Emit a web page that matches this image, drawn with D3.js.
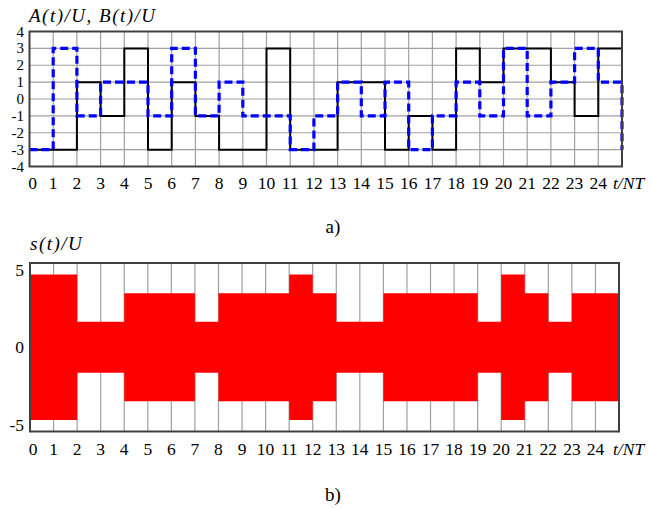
<!DOCTYPE html>
<html>
<head>
<meta charset="utf-8">
<script src="https://cdn.jsdelivr.net/npm/d3@7"></script>
<style>
  html, body { margin: 0; padding: 0; background: #fff; }
</style>
</head>
<body>
<svg id="chart" width="651" height="508" font-family="'Liberation Serif', 'DejaVu Serif', serif"></svg>
<script>
// Symbol intervals t/NT = 0 … 24
const intervals = d3.range(25);
const xTickLabels = d3.range(25).map(String);

// In-phase A(t)/U and quadrature B(t)/U amplitude per interval
const aValues = [-3, -3, 1, -1, 3, -3, 1, -1, -3, -3, 3, -3, -3, 1, 1, -3, -1, -3, 3, 1, 3, 3, 1, -1, 3];
const bValues = [-3, 3, -1, 1, 1, -1, 3, -1, 1, -1, -1, -3, -1, 1, -1, 1, -3, -1, 1, -1, 3, -1, 1, 3, 1];
// B(t)/U level entered at t/NT = 25
const bNext = -3;

// Envelope of s(t)/U per interval
const sEnvelope = [4.7, 4.7, 1.65, 1.65, 3.5, 3.5, 3.5, 1.65, 3.5, 3.5, 3.5, 4.7, 3.5,
                   1.65, 1.65, 3.5, 3.5, 3.5, 3.5, 1.65, 4.7, 3.5, 1.65, 3.5, 3.5];

const yTicksTop = [4, 3, 2, 1, 0, -1, -2, -3, -4];
const yTicksBottom = [5, 0, -5];

const svg = d3.select("#chart");
const gridColor = "#a0a0a0";
const frameColor = "#404040";
const tickFont = 17.5;
const yTickFontTop = 15;

function fmt(v) { return v < 0 ? "-" + Math.abs(v) : String(v); }

// ---------- a) A(t)/U, B(t)/U ----------
const xA = d3.scaleLinear().domain([0, 25]).range([29.5, 622]);
const yA = d3.scaleLinear().domain([-4, 4]).range([166.5, 31.5]);

const gA = svg.append("g");

gA.append("g").selectAll("line.v").data(d3.range(1, 25)).join("line")
  .attr("x1", d => xA(d)).attr("x2", d => xA(d))
  .attr("y1", yA(4)).attr("y2", yA(-4))
  .attr("stroke", gridColor).attr("stroke-width", 1.2);
gA.append("g").selectAll("line.h").data(d3.range(-3, 4)).join("line")
  .attr("x1", xA(0)).attr("x2", xA(25))
  .attr("y1", d => yA(d)).attr("y2", d => yA(d))
  .attr("stroke", gridColor).attr("stroke-width", 1.2);

const stepLine = d3.line().x(d => xA(d[0])).y(d => yA(d[1])).curve(d3.curveStepAfter);

const aPoints = intervals.map(i => [i, aValues[i]]).concat([[25, aValues[24]]]);
const bPoints = intervals.map(i => [i, bValues[i]]).concat([[25, bNext]]);

gA.append("path").attr("d", stepLine(aPoints))
  .attr("fill", "none").attr("stroke", "#000").attr("stroke-width", 2);
gA.append("path").attr("d", stepLine(bPoints))
  .attr("fill", "none").attr("stroke", "#0000ff").attr("stroke-width", 3.2)
  .attr("stroke-dasharray", "8,4");

gA.append("rect")
  .attr("x", xA(0)).attr("y", yA(4))
  .attr("width", xA(25) - xA(0)).attr("height", yA(-4) - yA(4))
  .attr("fill", "none").attr("stroke", frameColor).attr("stroke-width", 2);

gA.append("g").selectAll("text").data(yTicksTop).join("text")
  .attr("x", 24).attr("y", d => yA(d) + 5)
  .attr("text-anchor", "end").attr("font-size", yTickFontTop)
  .text(fmt);

gA.append("g").selectAll("text").data(xTickLabels).join("text")
  .attr("x", (d, i) => xA(i) + (i === 0 ? 3 : 0)).attr("y", 189)
  .attr("text-anchor", "middle").attr("font-size", tickFont)
  .text(d => d);

gA.append("text").attr("x", 613).attr("y", 189)
  .attr("font-size", tickFont).attr("font-style", "italic").text("t/NT");

gA.append("text").attr("x", 29).attr("y", 22)
  .attr("font-size", 19).attr("font-style", "italic").attr("letter-spacing", 1.5)
  .text("A(t)/U, B(t)/U");

svg.append("text").attr("x", 333).attr("y", 233)
  .attr("text-anchor", "middle").attr("font-size", 19).text("a)");

// ---------- b) s(t)/U ----------
const xS = d3.scaleLinear().domain([0, 25]).range([30, 619]);
const yS = d3.scaleLinear().domain([-5.45, 5.45]).range([431.5, 263]);

const gS = svg.append("g");

gS.append("g").selectAll("line").data(d3.range(1, 25)).join("line")
  .attr("x1", d => xS(d)).attr("x2", d => xS(d))
  .attr("y1", yS(5.45)).attr("y2", yS(-5.45))
  .attr("stroke", gridColor).attr("stroke-width", 1.2);

const sPoints = intervals.map(i => [i, sEnvelope[i]]).concat([[25, sEnvelope[24]]]);
const envArea = d3.area()
  .x(d => xS(d[0]))
  .y0(d => yS(-d[1]))
  .y1(d => yS(d[1]))
  .curve(d3.curveStepAfter);

gS.append("path").attr("d", envArea(sPoints)).attr("fill", "#ff0000");

gS.append("rect")
  .attr("x", xS(0)).attr("y", yS(5.45))
  .attr("width", xS(25) - xS(0)).attr("height", yS(-5.45) - yS(5.45))
  .attr("fill", "none").attr("stroke", frameColor).attr("stroke-width", 2);

gS.append("g").selectAll("text").data(yTicksBottom).join("text")
  .attr("x", 24).attr("y", d => yS(d) + 6)
  .attr("text-anchor", "end").attr("font-size", tickFont)
  .text(fmt);

gS.append("g").selectAll("text").data(xTickLabels).join("text")
  .attr("x", (d, i) => xS(i) + (i === 0 ? 3 : 0)).attr("y", 455)
  .attr("text-anchor", "middle").attr("font-size", tickFont)
  .text(d => d);

gS.append("text").attr("x", 613).attr("y", 455)
  .attr("font-size", tickFont).attr("font-style", "italic").text("t/NT");

gS.append("text").attr("x", 30).attr("y", 250)
  .attr("font-size", 19).attr("font-style", "italic").attr("letter-spacing", 1.5)
  .text("s(t)/U");

svg.append("text").attr("x", 333).attr("y", 501)
  .attr("text-anchor", "middle").attr("font-size", 19).text("b)");
</script>
</body>
</html>
